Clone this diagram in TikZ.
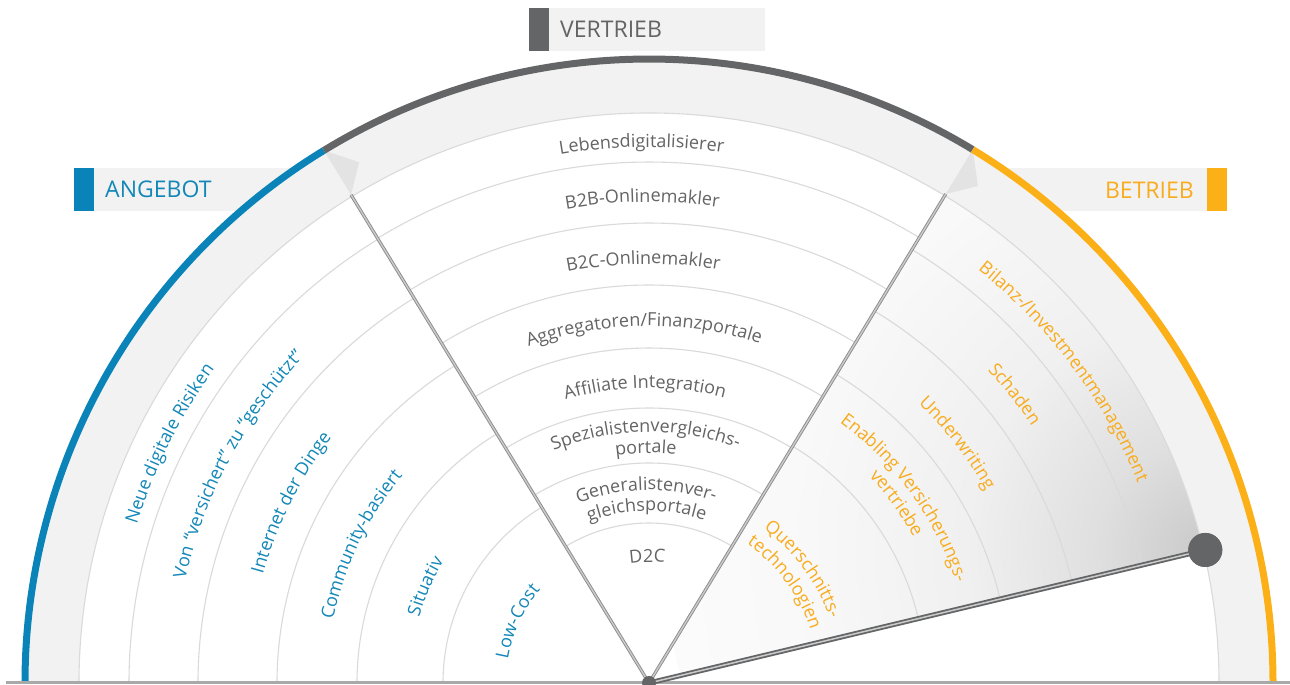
\documentclass[tikz,border=0pt]{standalone}
\usepackage{fontspec}
\setmainfont{Open Sans}
\usetikzlibrary{decorations.text}

\definecolor{vblue}{HTML}{0A84B8}
\definecolor{vgrey}{HTML}{646566}
\definecolor{vorange}{HTML}{FCB017}
\definecolor{bandgrey}{HTML}{F2F2F2}
\definecolor{ringgrey}{HTML}{DADADA}
\definecolor{tipgrey}{HTML}{E3E3E3}
\definecolor{basegrey}{HTML}{A9A9A9}
\definecolor{spokegrey}{HTML}{8C8C8C}
\definecolor{spokecore}{HTML}{CACACA}
\definecolor{txtgrey}{HTML}{646464}
\definecolor{txtblue}{HTML}{1287B8}
\definecolor{txtorange}{HTML}{F8AC1E}
\definecolor{glowA}{gray}{0.79}
\definecolor{glowB}{gray}{0.875}
\definecolor{glowC}{gray}{0.94}
\definecolor{glowD}{gray}{0.975}
\definecolor{glowE}{gray}{0.985}

\pgfdeclareradialshading{needleglow}{\pgfpointorigin}{%
  color(0bp)=(glowA); color(5bp)=(glowB); color(11bp)=(glowC);
  color(19bp)=(glowD); color(25bp)=(glowE); color(50bp)=(glowE)}

\newcommand\lblfont{\fontsize{18}{21}\selectfont}
\newcommand\headfont{\fontsize{23}{26}\selectfont}
% text set along a clockwise arc of radius #1, centred on angle #2
\newcommand\arclabel[4]{%
  \path[decorate,decoration={text along path,text align=center,
    text={|\lblfont\color{#3}|#4}}]
    ({#2+45}:#1) arc[start angle={#2+45},end angle={#2-45},radius=#1];}

\begin{document}
\begin{tikzpicture}[x=1pt,y=1pt,
  ringline/.style={draw=ringgrey,line width=1.1},
  rim/.style={line width=7},
  spoke/.style={draw=spokegrey,line width=0.9,double=spokecore,double distance=1.4},
  needle/.style={draw=vgrey,line width=1.8,double=spokecore,double distance=1.5},
  header/.style={inner sep=0,font=\headfont}]

\useasboundingbox (0,0) rectangle (1290,685);

% header tabs
\fill[bandgrey] (94,474) rectangle (330,517);
\fill[vblue] (74,474) rectangle (94,517);
\node[header,anchor=base west,text=txtblue] (angebot) at (105,487.5) {ANGEBOT};

\fill[bandgrey] (960,474) rectangle (1207,517);
\fill[vorange] (1207,474) rectangle (1227,517);
\node[header,anchor=base east,text=txtorange] (betrieb) at (1194,486.5) {BETRIEB};

\fill[bandgrey] (549,634) rectangle (765,677);
\fill[vgrey] (529,634) rectangle (549,677);
\node[header,anchor=base west,text=txtgrey] (vertrieb) at (560,647.5) {VERTRIEB};

\begin{scope}[shift={(649,2)}]
  % outer band and white interior
  \fill[bandgrey] (0:626) arc[start angle=0,end angle=180,radius=626] -- cycle;
  \fill[white] (0:570) arc[start angle=0,end angle=180,radius=570] -- cycle;

  % shaded sector between the right spoke and the needle
  \begin{scope}
    \clip (0,0) -- (13.45:570) arc[start angle=13.45,end angle=58.75,radius=570] -- cycle;
    \shade[shading=needleglow] (13.45:572) circle (540);
  \end{scope}

  % rings of the three sectors
  \foreach \r in {520,451,372,292,206}
    \draw[ringline] (180:\r) arc[start angle=180,end angle=121.4,radius=\r];
  \foreach \r in {521,460,398,335,275,220,160}
    \draw[ringline] (121.4:\r) arc[start angle=121.4,end angle=58.75,radius=\r];
  \foreach \r in {507,435,361,277}
    \draw[ringline] (58.75:\r) arc[start angle=58.75,end angle=13.45,radius=\r];
  \draw[ringline] (180:570) arc[start angle=180,end angle=0,radius=570];

  % spoke tips
  \fill[tipgrey] (121.4:572) -- (121.4:624) -- (119.1:596) -- cycle;
  \fill[tipgrey] (58.75:572) -- (58.75:624) -- (56.5:596) -- cycle;

  % coloured rim
  \draw[rim,vblue] (180:624) arc[start angle=180,end angle=121.4,radius=624];
  \draw[rim,vgrey] (121.4:624) arc[start angle=121.4,end angle=58.75,radius=624];
  \draw[rim,vorange] (58.75:624) arc[start angle=58.75,end angle=0,radius=624];

  % base line
  \coordinate (baseL) at (-643,0);
  \coordinate (baseR) at (641,0);
  \draw[basegrey,line width=3] (baseL) -- (baseR);

  % spokes and needle
  \coordinate (hubc) at (0,0);
  \coordinate (lend) at (121.4:572);
  \coordinate (rend) at (58.75:572);
  \node[circle,fill=vgrey,inner sep=0,minimum size=34] (knob) at (13.45:572) {};
  \draw[spoke] (hubc) -- (lend);
  \draw[spoke] (hubc) -- (rend);
  \draw[needle] (hubc) -- (knob.center);
  \node[circle,fill=vgrey,inner sep=0,minimum size=34] at (knob) {};
  \node[circle,fill=vgrey,inner sep=0,minimum size=14] (hub) at (hubc) {};

  % VERTRIEB sector
  \arclabel{536}{90.8}{txtgrey}{Lebensdigitalisierer}
  \arclabel{481}{90.8}{txtgrey}{B2B-Onlinemakler}
  \arclabel{419}{90.8}{txtgrey}{B2C-Onlinemakler}
  \arclabel{357}{90.8}{txtgrey}{Aggregatoren/Finanzportale}
  \arclabel{295}{90.8}{txtgrey}{Affiliate Integration}
  \arclabel{251}{90.8}{txtgrey}{Spezialistenvergleichs-}
  \arclabel{230}{90.8}{txtgrey}{portale}
  \arclabel{193}{90.8}{txtgrey}{Generalistenver-}
  \arclabel{172}{90.8}{txtgrey}{gleichsportale}
  \arclabel{121}{90.8}{txtgrey}{D2C}

  % ANGEBOT sector
  \arclabel{536}{153.5}{txtblue}{Neue digitale Risiken}
  \arclabel{475}{152}{txtblue}{Von “versichert” zu “geschützt”}
  \arclabel{401}{153.3}{txtblue}{Internet der Dinge}
  \arclabel{322}{154.3}{txtblue}{Community-basiert}
  \arclabel{239}{156.6}{txtblue}{Situativ}
  \arclabel{143}{154.9}{txtblue}{Low-Cost}

  % BETRIEB sector
  \arclabel{528}{36.9}{txtorange}{Bilanz-/Investmentmanagement}
  \arclabel{461}{38.3}{txtorange}{Schaden}
  \arclabel{388}{37.9}{txtorange}{Underwriting}
  \arclabel{323}{36}{txtorange}{Enabling Versicherungs-}
  \arclabel{302}{36}{txtorange}{vertriebe}
  \arclabel{192}{36.5}{txtorange}{Querschnitts-}
  \arclabel{170}{36.5}{txtorange}{technologien}
\end{scope}
\end{tikzpicture}
\end{document}
